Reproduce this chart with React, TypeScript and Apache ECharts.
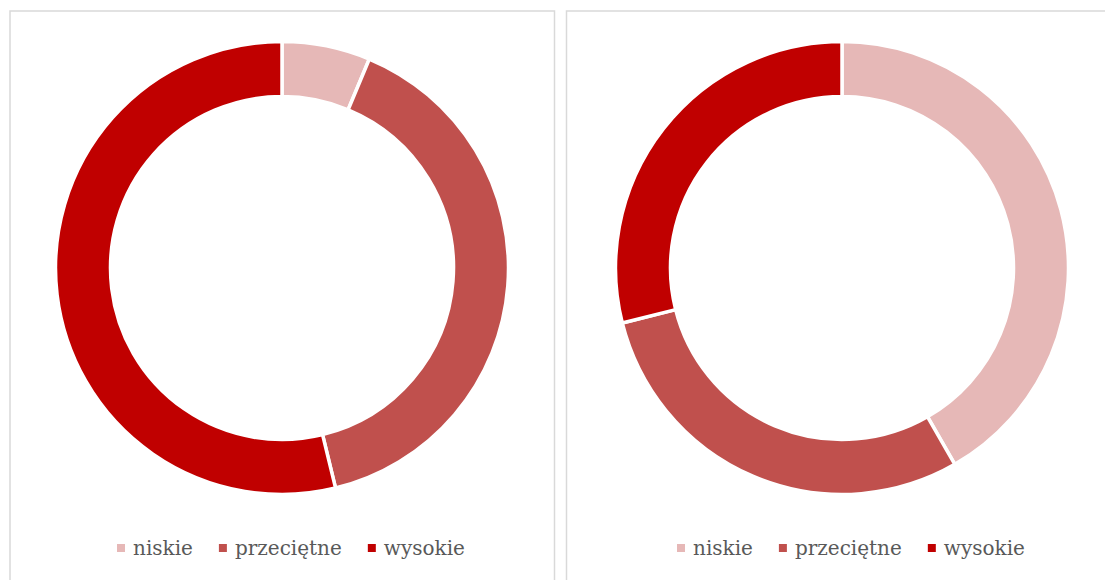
import React, { useEffect, useRef } from "react";
import * as echarts from "echarts";

const categories = ["niskie", "przeciętne", "wysokie"];
const leftValues = [6.3, 39.9, 53.8];
const rightValues = [41.7, 29.4, 28.9];
const colors = ["#E6B8B7", "#C0504D", "#C00000"];

export default function App() {
  const ref = useRef<HTMLDivElement>(null);
  useEffect(() => {
    const chart = echarts.init(ref.current!, null, { renderer: "svg" });
    const mkData = (vals: number[]) =>
      categories.map((name, i) => ({ name, value: vals[i], itemStyle: { color: colors[i] } }));
    const pieBase = {
      type: "pie" as const,
      radius: [171.5, 226.5],
      startAngle: 90,
      clockwise: true,
      label: { show: false },
      labelLine: { show: false },
      emphasis: { disabled: true },
      itemStyle: { borderColor: "#FFFFFF", borderWidth: 3.5 },
    };
    const legendBase = {
      icon: "rect",
      itemWidth: 10,
      itemHeight: 10,
      itemGap: 24,
      orient: "horizontal" as const,
      top: 533,
      data: categories,
      textStyle: { fontFamily: "DejaVu Serif", fontSize: 20, color: "#595959", padding: [0, 0, 0, 2] },
    };
    chart.setOption({
      animation: false,
      color: colors,
      graphic: [
        {
          type: "rect",
          shape: { x: 10, y: 11, width: 544.5, height: 620 },
          style: { fill: "none", stroke: "#D9D9D9", lineWidth: 1.5 },
          silent: true,
        },
        {
          type: "rect",
          shape: { x: 566.5, y: 11, width: 560, height: 620 },
          style: { fill: "none", stroke: "#D9D9D9", lineWidth: 1.5 },
          silent: true,
        },
      ],
      legend: [
        { ...legendBase, left: 110 },
        { ...legendBase, left: 670 },
      ],
      series: [
        { ...pieBase, name: "left", center: [282, 268], data: mkData(leftValues) },
        { ...pieBase, name: "right", center: [842, 268], data: mkData(rightValues) },
      ],
    });
    return () => chart.dispose();
  }, []);
  return (
    <div
      ref={ref}
      style={{ position: "absolute", left: 0, top: 0, width: 1105, height: 580, background: "#FFFFFF" }}
    />
  );
}
